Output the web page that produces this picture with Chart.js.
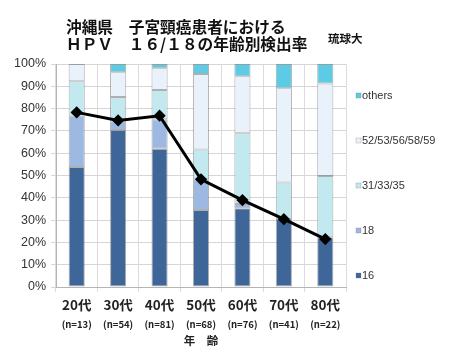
<!DOCTYPE html>
<html>
<head>
<meta charset="utf-8">
<script src="https://cdn.jsdelivr.net/npm/chart.js@4/dist/chart.umd.min.js"></script>
<style>
html,body{margin:0;padding:0;background:#fff;}
#wrap{width:450px;height:357px;}
</style>
</head>
<body>
<div id="wrap"><canvas id="c" width="450" height="357"></canvas></div>
<script>
// ---- data ----
const categories = ['20代', '30代', '40代', '50代', '60代', '70代', '80代'];
const sampleLabels = ['(n=13)', '(n=54)', '(n=81)', '(n=68)', '(n=76)', '(n=41)', '(n=22)'];
const hpv16 =      [53.8, 70.4, 62.0, 34.5, 35.3, 30.5, 22.3];
const hpv18 =      [23.1,  3.7, 13.2, 13.8,  1.9,  0.0,  0.0];
const hpv313335 =  [15.4, 11.1, 13.1, 13.4, 31.7, 16.4, 27.5];
const hpv5253 =    [ 7.7, 11.1,  9.8, 33.8, 25.6, 42.2, 41.5];
const hpvOthers =  [ 0.0,  3.7,  1.9,  4.5,  5.5, 10.9,  8.7];
const hpv1618Rate = [78.3, 74.7, 76.8, 48.3, 39.0, 30.4, 21.5];
const yTicks = ['0%', '10%', '20%', '30%', '40%', '50%', '60%', '70%', '80%', '90%', '100%'];
const titleLines = ['沖縄県　子宮頸癌患者における', 'ＨＰＶ　１６/１８の年齢別検出率'];
const sourceLabel = '琉球大';
const xAxisTitle = '年　齢';

const seriesNames = ['16', '18', '31/33/35', '52/53/56/58/59', 'others'];
const seriesColors = ['#3e6699', '#9db8e1', '#c2e9ef', '#e9f2fb', '#5ccbe6'];
const seriesValues = [hpv16, hpv18, hpv313335, hpv5253, hpvOthers];

const barDatasets = seriesValues.map((vals, i) => ({
  type: 'bar',
  label: seriesNames[i],
  data: vals,
  backgroundColor: seriesColors[i],
  borderColor: 'rgba(110,110,110,0.55)',
  borderWidth: 1,
  borderSkipped: false,
  barPercentage: 0.39,
  categoryPercentage: 1.0,
  stack: 'bars',
  order: 2
}));

const lineDataset = {
  type: 'line',
  label: 'HPV16/18',
  data: hpv1618Rate,
  borderColor: '#000',
  backgroundColor: '#000',
  borderWidth: 3,
  pointStyle: 'rectRot',
  pointRadius: 4,
  pointBackgroundColor: '#000',
  pointBorderColor: '#000',
  tension: 0,
  stack: 'line',
  order: 0
};

const titlePlugin = {
  id: 'jpTitle',
  afterDraw(chart) {
    const ctx = chart.ctx;
    ctx.save();
    ctx.fillStyle = '#111';
    ctx.textBaseline = 'middle';
    ctx.textAlign = 'left';
    ctx.font = 'bold 15.7px "Noto Sans CJK JP"';
    ctx.fillText(titleLines[0], 66, 27);
    ctx.fillText(titleLines[1], 66, 44);
    ctx.font = 'bold 11.5px "Noto Sans CJK JP"';
    ctx.fillText(sourceLabel, 328, 38.5);
    ctx.restore();
  }
};

const legendPlugin = {
  id: 'sideLegend',
  afterDraw(chart) {
    const ctx = chart.ctx;
    const area = chart.chartArea;
    const items = chart.data.datasets.filter(d => d.type === 'bar').slice().reverse();
    const x = area.right + 10;
    let y = 95.5;
    ctx.save();
    ctx.textBaseline = 'middle';
    ctx.textAlign = 'left';
    ctx.font = '11px "Liberation Sans"';
    items.forEach(ds => {
      ctx.fillStyle = ds.backgroundColor;
      ctx.fillRect(x, y - 2.5, 5, 5);
      ctx.strokeStyle = 'rgba(120,120,120,0.6)';
      ctx.lineWidth = 0.5;
      ctx.strokeRect(x, y - 2.5, 5, 5);
      ctx.fillStyle = '#333';
      ctx.fillText(ds.label, x + 6, y);
      y += 45;
    });
    ctx.restore();
  }
};

const bgPlugin = {
  id: 'bg',
  beforeDraw(chart) {
    const ctx = chart.ctx;
    ctx.save();
    ctx.fillStyle = '#fff';
    ctx.fillRect(0, 0, chart.width, chart.height);
    ctx.restore();
  }
};

new Chart(document.getElementById('c'), {
  data: {
    labels: categories,
    datasets: [...barDatasets, lineDataset]
  },
  options: {
    responsive: false,
    devicePixelRatio: 1,
    animation: false,
    layout: { padding: { top: 64, left: 0, right: 104, bottom: 0 } },
    plugins: {
      legend: { display: false },
      title: { display: false },
      tooltip: { enabled: false }
    },
    scales: {
      x: {
        type: 'category',
        stacked: true,
        position: 'bottom',
        weight: 0,
        offset: true,
        grid: { offset: true, color: '#dcdcdc', lineWidth: 1, tickLength: 5, drawTicks: true },
        border: { color: '#b5b5b5' },
        ticks: {
          color: '#222',
          padding: 5,
          font: { family: '"Noto Sans CJK JP"', size: 13.5, weight: 'bold' }
        },
        afterFit(scale) { scale.height = 27; }
      },
      x2: {
        type: 'category',
        labels: sampleLabels,
        position: 'bottom',
        weight: 1,
        offset: true,
        grid: { display: false, drawTicks: false },
        border: { display: false },
        ticks: {
          color: '#222',
          padding: 5,
          font: { family: '"Noto Sans CJK JP"', size: 9.5, weight: 'bold' }
        },
        title: {
          display: true,
          text: xAxisTitle,
          color: '#222',
          padding: { top: 0, bottom: 9.4 },
          font: { family: '"Noto Sans CJK JP"', size: 11.5, weight: 'bold' }
        },
        afterFit(scale) { scale.height = 43; }
      },
      y: {
        stacked: true,
        min: 0,
        max: 100,
        grid: { color: '#d6d6d6', lineWidth: 1, tickLength: 5 },
        border: { color: '#b5b5b5' },
        ticks: {
          stepSize: 10,
          color: '#333',
          padding: 5,
          font: { family: '"Liberation Sans"', size: 12.5 },
          callback: (v) => yTicks[Math.round(v / 10)]
        },
        afterFit(scale) { scale.width = 56; }
      }
    }
  },
  plugins: [bgPlugin, titlePlugin, legendPlugin]
});
</script>
</body>
</html>
